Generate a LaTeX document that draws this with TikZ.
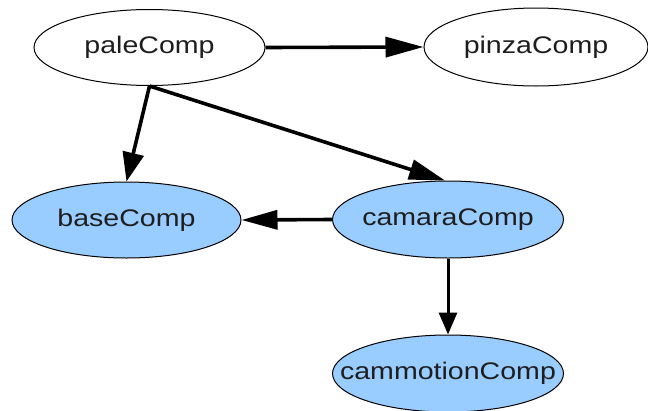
\documentclass[tikz,border=0pt]{standalone}
\usepackage{fontspec}
\setmainfont{Liberation Sans}
\usetikzlibrary{shapes.geometric,arrows.meta}
\definecolor{compblue}{RGB}{153,204,255}
\definecolor{labelgray}{RGB}{30,30,30}
\newcommand{\complabel}[1]{\scalebox{1.19}[1]{\fontsize{24}{24}\selectfont #1}}
\tikzset{
  comp/.style={ellipse, draw=black, line width=1pt, inner sep=0pt,
    minimum width=231pt, minimum height=76pt},
  compfilled/.style={comp, fill=compblue},
  comptext/.style={inner sep=0pt, text=labelgray},
  dep/.style={line width=3.6pt, draw=black},
}
\begin{document}
\begin{tikzpicture}[x=1pt, y=-1pt]
  \useasboundingbox (0,0) rectangle (648,410);
  % component outlines
  \node[comp] (pale) at (149.5,47.5) {};
  \node[comp, minimum width=224pt, minimum height=78pt] (pinza) at (536,47) {};
  \node[compfilled, minimum width=229pt] (base) at (126.5,220) {};
  \node[compfilled, minimum height=77pt] (camara) at (448,219.5) {};
  \node[compfilled, minimum height=77pt] (cammotion) at (448,373.5) {};
  % component names
  \node[comptext] (paletext) at (pale) {\complabel{paleComp}};
  \node[comptext] (pinzatext) at (pinza) {\complabel{pinzaComp}};
  \node[comptext] (basetext) at (base) {\complabel{baseComp}};
  \node[comptext] (camaratext) at (camara) {\complabel{camaraComp}};
  \node[comptext] (cammotiontext) at (cammotion) {\complabel{cammotionComp}};
  % dependencies
  \draw[dep, -{Triangle[length=38pt, width=20pt]}] (pale.east) -- (pinza.west);
  \draw[dep, -{Triangle[length=29pt, width=21pt]}] (pale.south) -- (base.north);
  \draw[dep, -{Triangle[length=36pt, width=20pt]}] (pale.south) -- ([xshift=-3pt]camara.north);
  \draw[dep, -{Triangle[length=36pt, width=19pt]}] (camara.west) -- (base.east);
  \draw[dep, line width=3pt, -{Triangle[length=22pt, width=18pt]}] (camara.south) -- (cammotion.north);
\end{tikzpicture}
\end{document}
